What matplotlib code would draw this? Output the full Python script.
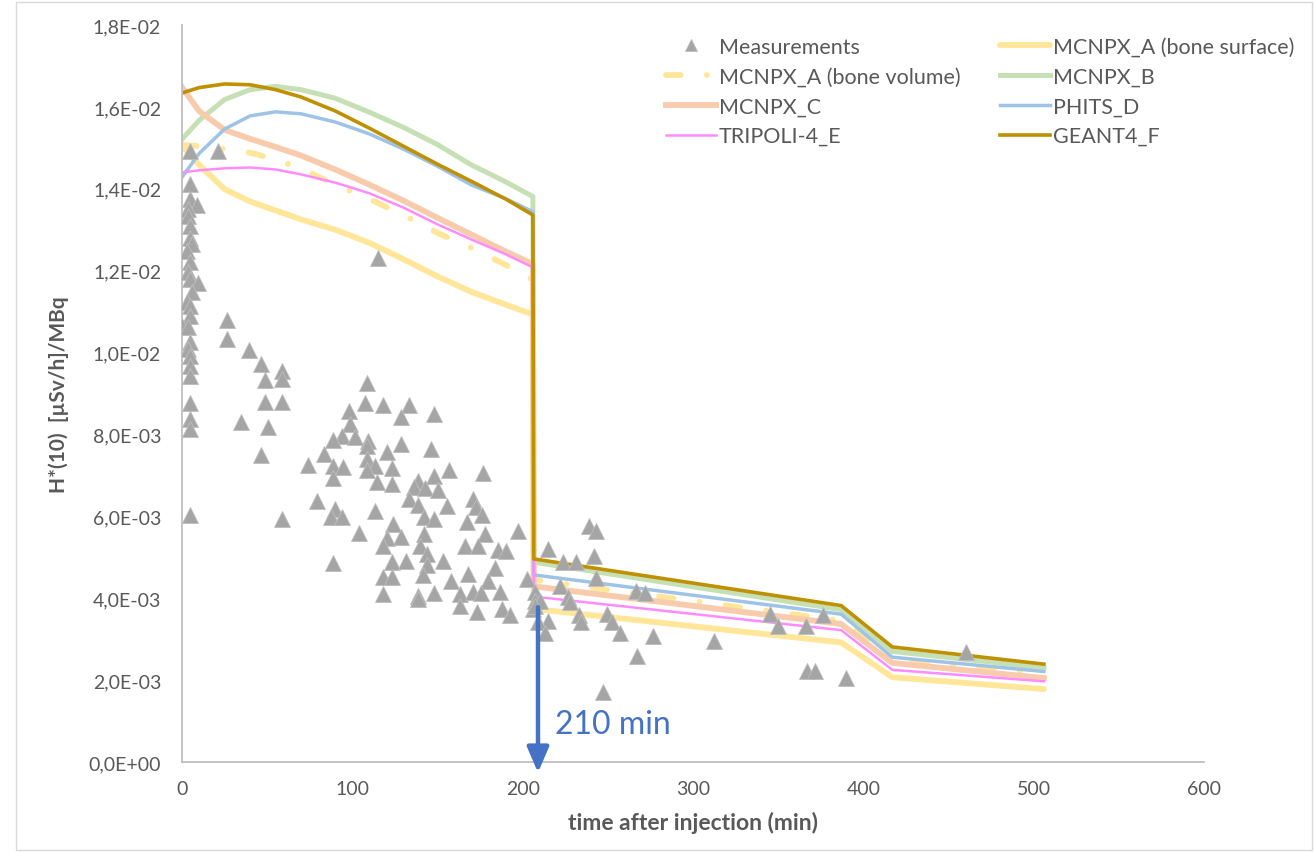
import matplotlib
matplotlib.use("Agg")
import matplotlib.pyplot as plt
from matplotlib.patches import Rectangle
from matplotlib.ticker import FuncFormatter

plt.rcParams["font.family"] = ["Lato", "DejaVu Sans"]

# ---- data -------------------------------------------------------------
# simulated curves: time grid (min) before and after the 210 min drop
t_sim = [0, 10, 25, 40, 55, 70, 90, 110, 130, 150, 170, 190, 206,
         206.5, 387, 417, 506]

mcnpx_a_surface = [0.01505, 0.01459, 0.01399, 0.01369, 0.01347, 0.01325, 0.01300,
                   0.01268, 0.01228, 0.01186, 0.01148, 0.01117, 0.01093,
                   0.00374, 0.00292, 0.00207, 0.00178]
mcnpx_a_volume = [0.01507, 0.01504, 0.01497, 0.01488, 0.01472, 0.01449, 0.01410,
                  0.01375, 0.01336, 0.01292, 0.01256, 0.01214, 0.01178,
                  0.00445, 0.00345, 0.00248, 0.00217]
mcnpx_b = [0.01521, 0.01567, 0.01618, 0.01642, 0.01650, 0.01642, 0.01621,
           0.01587, 0.01550, 0.01508, 0.01458, 0.01417, 0.01381,
           0.00488, 0.00372, 0.00270, 0.00230]
mcnpx_c = [0.01648, 0.01590, 0.01544, 0.01522, 0.01502, 0.01481, 0.01447,
           0.01410, 0.01371, 0.01329, 0.01288, 0.01247, 0.01216,
           0.00429, 0.00337, 0.00242, 0.00205]
phits_d = [0.01428, 0.01486, 0.01546, 0.01578, 0.01588, 0.01583, 0.01563,
           0.01534, 0.01497, 0.01455, 0.01409, 0.01376, 0.01344,
           0.00457, 0.00361, 0.00256, 0.00221]
tripoli_e = [0.01440, 0.01445, 0.01450, 0.01452, 0.01447, 0.01435, 0.01415,
             0.01389, 0.01354, 0.01313, 0.01276, 0.01240, 0.01208,
             0.00404, 0.00322, 0.00225, 0.00197]
geant4_f = [0.01634, 0.01647, 0.01656, 0.01654, 0.01642, 0.01624, 0.01590,
            0.01548, 0.01504, 0.01460, 0.01418, 0.01375, 0.01336,
            0.00496, 0.00382, 0.00281, 0.00239]

# measurements
meas_t = [4.7, 21.3, 4.7, 4.7, 8.6, 3.7, 3.7, 4.7, 4.7, 5.7, 2.8, 4.7, 3.7, 4.7,
          9.6, 5.7, 2.8, 4.7, 4.7, 0.0, 3.7, 26.2, 26.2, 4.7, 3.7, 4.7, 4.7, 4.7,
          4.7, 4.7, 4.7, 34.4, 4.7, 39.5, 46.4, 59.0, 59.0, 48.7, 48.7, 59.0,
          50.5, 46.6, 59.0, 115.3,
          108.8, 107.5, 97.9, 118.2, 133.5, 128.4, 148.0, 98.7, 93.8, 88.5,
          101.8, 109.4, 108.8, 128.4, 146.0, 83.6, 120.2, 74.2, 88.5, 94.7,
          108.5, 113.3, 108.8, 123.3, 88.5, 114.3, 123.3, 138.4, 148.0, 156.6,
          176.6, 136.2, 142.7, 150.0, 79.0, 89.8, 87.3, 93.8, 113.3, 133.1,
          138.4, 155.8, 171.0, 172.6, 176.0, 142.3, 148.0, 167.2, 103.8, 124.1,
          120.6, 128.4, 142.3, 178.0, 197.5, 118.2, 139.8, 143.7, 166.0, 174.0,
          185.7, 190.3, 215.0, 88.5, 123.5, 131.5, 153.0, 143.7, 183.8, 118.2,
          123.5, 141.7, 158.1, 168.0, 179.8, 202.4, 118.2, 138.8, 138.8, 148.0,
          163.2, 171.0, 175.4, 186.7, 207.3, 163.2, 173.0, 187.7, 192.6, 207.3,
          210.0, 206.3, 215.0, 209.0,
          238.8, 243.0, 241.7, 223.4, 231.4, 243.0, 222.0, 266.4, 271.6, 226.6,
          227.6, 207.3, 232.9, 249.6, 234.5, 252.2, 257.0, 213.0, 276.5, 312.6,
          345.0, 350.0, 366.4, 376.5, 267.0, 367.0, 371.7, 390.0, 246.9, 460.4]
meas_h = [0.01493, 0.01493, 0.01411, 0.01375, 0.01360, 0.01350, 0.01334, 0.01310,
          0.01281, 0.01265, 0.01249, 0.01220, 0.01196, 0.01180, 0.01171, 0.01147,
          0.01123, 0.01114, 0.01090, 0.01065, 0.01062, 0.01080, 0.01033, 0.01025,
          0.01009, 0.00992, 0.00968, 0.00943, 0.00878, 0.00838, 0.00813, 0.00831,
          0.00603, 0.01007, 0.00972, 0.00956, 0.00935, 0.00933, 0.00880, 0.00880,
          0.00817, 0.00750, 0.00593, 0.01230,
          0.00926, 0.00878, 0.00858, 0.00872, 0.00872, 0.00842, 0.00849, 0.00825,
          0.00797, 0.00786, 0.00794, 0.00785, 0.00771, 0.00777, 0.00764, 0.00752,
          0.00756, 0.00726, 0.00724, 0.00720, 0.00740, 0.00724, 0.00714, 0.00717,
          0.00694, 0.00683, 0.00679, 0.00687, 0.00699, 0.00714, 0.00707, 0.00671,
          0.00668, 0.00665, 0.00638, 0.00618, 0.00598, 0.00598, 0.00614, 0.00642,
          0.00628, 0.00626, 0.00642, 0.00624, 0.00603, 0.00598, 0.00593, 0.00587,
          0.00559, 0.00581, 0.00546, 0.00549, 0.00557, 0.00557, 0.00565, 0.00528,
          0.00527, 0.00508, 0.00527, 0.00527, 0.00518, 0.00516, 0.00520, 0.00485,
          0.00489, 0.00492, 0.00492, 0.00480, 0.00475, 0.00451, 0.00453, 0.00457,
          0.00443, 0.00459, 0.00443, 0.00447, 0.00410, 0.00406, 0.00399, 0.00413,
          0.00410, 0.00414, 0.00413, 0.00416, 0.00414, 0.00380, 0.00367, 0.00374,
          0.00359, 0.00394, 0.00394, 0.00374, 0.00345, 0.00343,
          0.00576, 0.00563, 0.00502, 0.00488, 0.00489, 0.00450, 0.00429, 0.00417,
          0.00413, 0.00402, 0.00391, 0.00382, 0.00359, 0.00361, 0.00343, 0.00343,
          0.00315, 0.00315, 0.00307, 0.00296, 0.00361, 0.00331, 0.00331, 0.00359,
          0.00260, 0.00223, 0.00223, 0.00204, 0.00172, 0.00269]

drop_time = 209
drop_arrow_top = 0.00378
x_ticks = [0, 100, 200, 300, 400, 500, 600]
y_ticks = [0.0, 0.002, 0.004, 0.006, 0.008, 0.010, 0.012, 0.014, 0.016, 0.018]

TXT = "#595959"

fig = plt.figure(figsize=(13.15, 8.53), dpi=100)
ax = fig.add_axes([182 / 1315, 90 / 853, (1204 - 182) / 1315, (763 - 26) / 853])

# frame of the whole chart area
fig.patches.append(Rectangle((16 / 1315, 2 / 853), 1296 / 1315, 848 / 853,
                             transform=fig.transFigure, fill=False,
                             edgecolor="#D9D9D9", linewidth=1.0))

l_surf, = ax.plot(t_sim, mcnpx_a_surface, color="#FFE699", lw=4.2,
                  solid_capstyle="round", label="MCNPX_A (bone surface)")
l_vol, = ax.plot(t_sim, mcnpx_a_volume, color="#FFE699", lw=4.2,
                 dash_capstyle="round", dashes=(2.5, 4.5, 0.01, 4.5),
                 label="MCNPX_A (bone volume)")
l_b, = ax.plot(t_sim, mcnpx_b, color="#C5E0B4", lw=3.6, label="MCNPX_B")
l_c, = ax.plot(t_sim, mcnpx_c, color="#F8CBAD", lw=4.2, label="MCNPX_C")
l_d, = ax.plot(t_sim, phits_d, color="#9DC3E6", lw=2.5, label="PHITS_D")
l_e, = ax.plot(t_sim, tripoli_e, color="#FF8BFF", lw=1.8, label="TRIPOLI-4_E")
l_f, = ax.plot(t_sim, geant4_f, color="#BF9000", lw=2.6, label="GEANT4_F")

sc, = ax.plot(meas_t, meas_h, linestyle="none", marker="^", markersize=11,
              color="#A5A5A5", markeredgecolor="#BDBDBD", markeredgewidth=0.6,
              zorder=5, label="Measurements")

# 210 min marker
ax.annotate("", xy=(drop_time, -0.00026), xytext=(drop_time, drop_arrow_top),
            arrowprops=dict(arrowstyle="-|>,head_length=0.7,head_width=0.3",
                            color="#4472C4", lw=3.2, shrinkA=0, shrinkB=0,
                            mutation_scale=22),
            annotation_clip=False, zorder=6)
ax.text(219, 0.00093, "210 min", color="#4472C4", fontsize=23,
        ha="left", va="center")

ax.set_xlim(0, 600)
ax.set_ylim(0, 0.018)
ax.set_xticks(x_ticks)
ax.set_yticks(y_ticks)
ax.yaxis.set_major_formatter(
    FuncFormatter(lambda v, _: f"{v:.1E}".replace(".", ",")))
ax.tick_params(length=0, colors=TXT, labelsize=14)
ax.tick_params(axis="y", pad=15)
ax.tick_params(axis="x", pad=13)
for s in ("top", "right"):
    ax.spines[s].set_visible(False)
for s in ("left", "bottom"):
    ax.spines[s].set_color("#BFBFBF")
    ax.spines[s].set_linewidth(1.3)

ax.set_xlabel("time after injection (min)", fontsize=16.5, fontweight="bold",
              color=TXT, labelpad=10)
ax.set_ylabel("H*(10)  [µSv/h]/MBq", fontsize=15, fontweight="bold",
              color=TXT, labelpad=14)

leg_kw = dict(frameon=False, fontsize=15.5, handlelength=2.3, handletextpad=0.15,
              labelspacing=0.45, borderaxespad=0, borderpad=0, labelcolor=TXT,
              markerscale=0.8, loc="upper left", bbox_transform=fig.transFigure)
leg1 = ax.legend([sc, l_vol, l_c, l_e],
                 [h.get_label() for h in (sc, l_vol, l_c, l_e)],
                 bbox_to_anchor=(666 / 1315, 1 - 38 / 853), **leg_kw)
ax.add_artist(leg1)
ax.legend([l_surf, l_b, l_d, l_f],
          [h.get_label() for h in (l_surf, l_b, l_d, l_f)],
          bbox_to_anchor=(1000 / 1315, 1 - 38 / 853), **leg_kw)

fig.savefig("out.png", dpi=100)
